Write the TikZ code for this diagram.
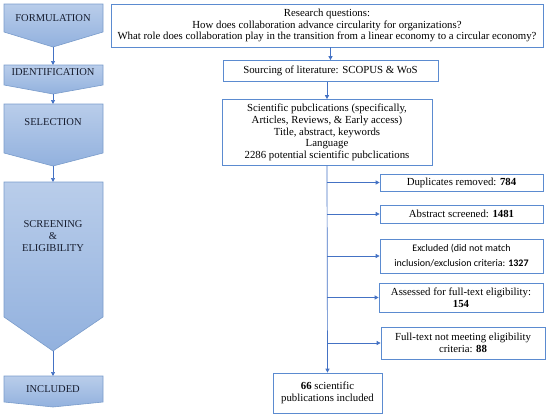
\documentclass[tikz,border=0pt]{standalone}
\usepackage{fontspec}
\setmainfont{Liberation Serif}
\newfontfamily\calfont{Carlito}
\usepackage{xcolor}
\usepackage{tikz}
\usetikzlibrary{arrows.meta,positioning,calc}
\definecolor{sline}{HTML}{4472C4}
\definecolor{sbox}{HTML}{5B8BD0}
\definecolor{stop}{HTML}{B9CDEA}
\definecolor{sbot}{HTML}{92B1DE}
\definecolor{sedge}{HTML}{7A9CCB}
\definecolor{sink}{HTML}{161C2E}

\begin{document}
\begin{tikzpicture}[x=1pt,y=-1pt,every node/.style={font=\fontsize{10.8}{11.6}\selectfont},
  stage/.style={top color=stop,bottom color=sbot,draw=sedge,line width=0.6pt},
  stagetext/.style={text=sink,align=center,font=\fontsize{10.5}{12.2}\selectfont},
  infobox/.style={draw=sbox,line width=0.7pt,align=center,inner sep=0pt},
  flow/.style={-{Triangle[length=4pt,width=4pt]},sline,line width=0.7pt}]
  \useasboundingbox (0,0) rectangle (550,418);

  % stages on the left
  \foreach \top/\side/\tip/\name in {4/32/47/form,65/85/94/iden,104/153/166/sel,182/317/351/scr,376/402/407/incl}{
    \shade[stage] (4,\top) -- (103,\top) -- (103,\side) -- (53,\tip) -- (4,\side) -- cycle;
    \coordinate (\name-top) at (53,\top);
    \coordinate (\name-tip) at (53,\tip);
  }
  \node[stagetext] (formtext) at (53,18)  {FORMULATION};
  \node[stagetext] (identext) at (53,72)  {IDENTIFICATION};
  \node[stagetext] (seltext)  at (53,122) {SELECTION};
  \node[stagetext] (scrtext)  at (53,236) {SCREENING\\\&\\ELIGIBILITY};
  \node[stagetext] (incltext) at (53,389) {INCLUDED};

  \draw[flow] (form-tip) -- (iden-top);
  \draw[flow] (iden-tip) -- (sel-top);
  \draw[flow] (sel-tip)  -- (scr-top);
  \draw[flow] (scr-tip)  -- (incl-top);

  % review process
  \node[infobox,minimum width=432,minimum height=43] (rq) at (327,25.5)
    {Research questions:\\How does collaboration advance circularity for organizations?\\What role does collaboration play in the transition from a linear economy to a circular economy?};
  \node[infobox,minimum width=215,minimum height=21] (src) at (330.5,71)
    {Sourcing of literature: SCOPUS \& WoS};
  \node[infobox,minimum width=210,minimum height=66] (pub) at (327,132.5)
    {Scientific pubclications (specifically,\\Articles, Reviews, \& Early access)\\Title, abstract, keywords\\Language\\2286 potential scientific pubclications};

  \node[infobox,minimum width=163,minimum height=17] (dup) at (461.5,182.5) {Duplicates removed: \textbf{784}};
  \node[infobox,minimum width=163,minimum height=18] (abs) at (461.5,214) {Abstract screened: \textbf{1481}};
  \node[infobox,minimum width=163,minimum height=34,font=\calfont\fontsize{10}{15}\selectfont] (exc) at (461.5,256)
    {Excluded (did not match\\inclusion/exclusion criteria: \textbf{1327}};
  \node[infobox,minimum width=164,minimum height=29] (ass) at (461,297.5) {Assessed for full-text eligibility:\\\textbf{154}};
  \node[infobox,minimum width=164,minimum height=32] (ful) at (463,343) {Full-text not meeting eligibility\\criteria: \textbf{88}};
  \node[infobox,minimum width=109,minimum height=40] (inc) at (327.5,393) {\textbf{66} scientific\\publications included};

  \draw[flow] (rq.south -| src.north) -- (src.north);
  \draw[flow] (src.south -| pub.north) -- (pub.north);
  \draw[flow] (pub.south) -- (inc.north);
  \foreach \tgt in {dup,abs,exc,ass,ful}
    \draw[flow] (pub.south |- \tgt.west) -- (\tgt.west);
\end{tikzpicture}
\end{document}
